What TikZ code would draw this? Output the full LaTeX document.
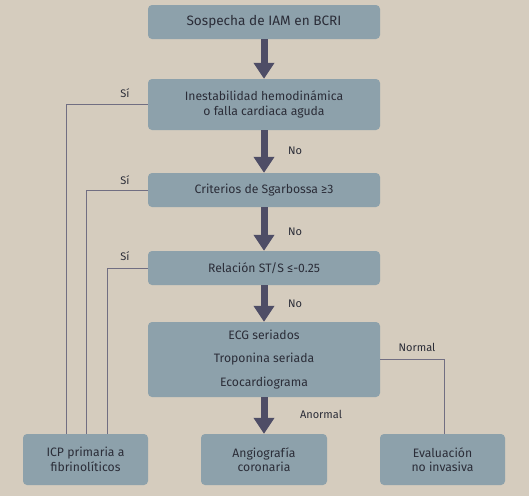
\documentclass[tikz,border=0pt]{standalone}
\usepackage{fontspec}
\setmainfont{Fira Sans}
\usetikzlibrary{arrows.meta}

\definecolor{bgcol}{HTML}{D5CCBE}
\definecolor{boxcol}{HTML}{8DA1AB}
\definecolor{flowcol}{HTML}{4E4D66}
\definecolor{linecol}{HTML}{716E82}
\definecolor{txtcol}{HTML}{2B2D38}

\tikzset{
  stepbox/.style={fill=boxcol, rounded corners=4pt, text=txtcol, align=center,
    font=\fontsize{12.2}{14.5}\selectfont, inner sep=0pt},
  flow/.style={flowcol, line width=7pt, -{Triangle[width=20pt,length=16pt]}},
  branch/.style={linecol, line width=1pt},
  lbl/.style={text=txtcol, font=\fontsize{11}{13}\selectfont, inner sep=0pt}
}

\begin{document}
\begin{tikzpicture}[x=1pt,y=-1pt]

% Background
\fill[bgcol] (0,0) rectangle (529,496);
\useasboundingbox (0,0) rectangle (529,496);

% Main column
\node[stepbox, minimum width=232pt, minimum height=34pt, font=\fontsize{13.6}{16}\selectfont] (sospecha) at (264,22) {Sospecha de IAM en BCRI};
\node[stepbox, minimum width=232pt, minimum height=51pt] (inestab) at (264,104.5) {Inestabilidad hemodinámica\\ o falla cardiaca aguda};
\node[stepbox, minimum width=232pt, minimum height=34pt] (sgarb) at (264,190) {Criterios de Sgarbossa ≥3};
\node[stepbox, minimum width=232pt, minimum height=34pt] (relst) at (264,268) {Relación ST/S ≤-0.25};
\node[stepbox, minimum width=232pt, minimum height=75pt] (seriados) at (264,359.5) {ECG seriados\\[9pt] Troponina seriada\\[9pt] Ecocardiograma};

% Outcomes
\node[stepbox, minimum width=125pt, minimum height=51pt] (icp) at (85.5,459.5) {ICP primaria a\\ fibrinolíticos};
\node[stepbox, minimum width=126pt, minimum height=51pt] (angio) at (264,459.5) {Angiografía\\ coronaria};
\node[stepbox, minimum width=125pt, minimum height=51pt] (evalua) at (442.5,459.5) {Evaluación\\ no invasiva};

% Thick arrows
\draw[flow] (sospecha) -- (inestab);
\draw[flow] (inestab) -- (sgarb);
\draw[flow] (sgarb) -- (relst);
\draw[flow] (relst) -- (seriados);
\draw[flow] (seriados) -- (angio);

% Yes branches
\draw[branch] (inestab.west) -| ([xshift=-19.5pt]icp.north);
\draw[branch] (sgarb.west) -| ([xshift=0.5pt]icp.north);
\draw[branch] (relst.west) -| ([xshift=21.5pt]icp.north);

% Normal branch
\draw[branch] (seriados.east) -| ([xshift=1.5pt]evalua.north);

% Labels
\node[lbl] (si1) at (125,93) {Sí};
\node[lbl] (si2) at (125,180) {Sí};
\node[lbl] (si3) at (125,256) {Sí};
\node[lbl] (no1) at (295,151) {No};
\node[lbl] (no2) at (295,232) {No};
\node[lbl] (no3) at (295,304) {No};
\node[lbl] (normal) at (417,347) {Normal};
\node[lbl] (anormal) at (321,414) {Anormal};

\end{tikzpicture}
\end{document}
